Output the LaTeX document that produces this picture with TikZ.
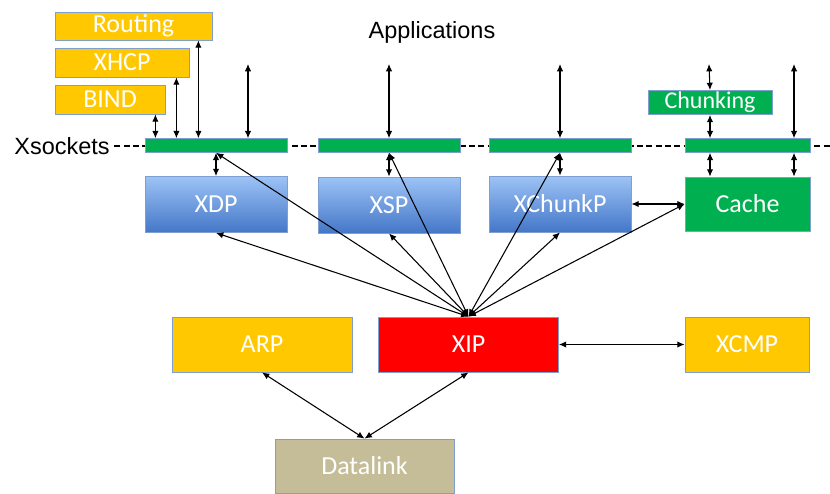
\documentclass[tikz,border=0pt]{standalone}
\usepackage{fontspec}
\setmainfont{Carlito}
\newfontfamily\arialfont{Liberation Sans}
\usetikzlibrary{arrows.meta}

\definecolor{gold}{HTML}{FFC800}
\definecolor{xgreen}{HTML}{00B050}
\definecolor{tan}{HTML}{C4BD97}
\definecolor{edgeblue}{HTML}{7F9FD0}
\definecolor{lightblue}{RGB}{157,195,246}
\definecolor{darkblue}{RGB}{68,119,200}

\tikzset{
  box/.style={draw=edgeblue, line width=0.6pt, inner sep=0pt, text=white,
    font=\fontsize{19.5}{20}\selectfont},
  goldbox/.style={box, fill=gold},
  bluebox/.style={box, top color=lightblue, bottom color=darkblue},
  bar/.style={draw=edgeblue, line width=0.4pt, fill=xgreen, minimum height=10.5pt, inner sep=0pt},
  dbl/.style={<->, line width=0.8pt},
  label/.style={font=\arialfont\fontsize{17.6}{18}\selectfont}
}

\begin{document}
\begin{tikzpicture}[x=0.75pt, y=-0.75pt, >={Latex[length=5.5pt,width=4.8pt]}]
    \useasboundingbox (0,0) rectangle (830,493);

    % Xsockets line
    \node[label] (xsock) at (62,146) {Xsockets};
    \draw[dashed, line width=0.9pt, dash pattern=on 4.5pt off 2.5pt] (xsock.east) -- (830,146);
    \node[label] (apps) at (432,32) {Applications};

    % Socket bars
    \node[bar, minimum width=106.5pt] (bar1) at (216,145.5) {};
    \node[bar, minimum width=106.5pt] (bar2) at (389,145.5) {};
    \node[bar, minimum width=106.5pt] (bar3) at (560,145.5) {};
    \node[bar, minimum width=93.75pt] (bar4) at (747.5,145.5) {};

    % Control plane
    \node[goldbox, minimum width=117.75pt, minimum height=21pt] (routing) at (133.5,26) {Routing};
    \node[goldbox, minimum width=100.5pt, minimum height=21.75pt] (xhcp) at (122,62.5) {XHCP};
    \node[goldbox, minimum width=82.5pt, minimum height=21.75pt] (bind) at (110,99.5) {BIND};

    % Transports
    \node[bluebox, minimum width=106.5pt, minimum height=42pt] (xdp) at (216,204.5) {XDP};
    \node[bluebox, minimum width=106.5pt, minimum height=42pt] (xsp) at (389,205) {XSP};
    \node[bluebox, minimum width=106.5pt, minimum height=42pt] (xchunkp) at (560,204) {XChunkP};
    \node[box, fill=xgreen, minimum width=93.75pt, minimum height=40.5pt] (cache) at (747.5,204) {Cache};
    \node[box, fill=xgreen, minimum width=93pt, minimum height=18pt,
      font=\fontsize{18}{18}\selectfont] (chunking) at (710,102.5) {Chunking};

    % Network layer
    \node[goldbox, minimum width=135pt, minimum height=41.25pt] (arp) at (262,344.5) {ARP};
    \node[box, fill=red, minimum width=135pt, minimum height=41.25pt] (xip) at (468.5,344.5) {XIP};
    \node[goldbox, minimum width=93pt, minimum height=41.25pt] (xcmp) at (747,344.5) {XCMP};
    \node[box, fill=tan, minimum width=134.25pt, minimum height=40.5pt] (datalink) at (364.5,466) {Datalink};

    % Application ends
    \coordinate (a1) at (248,64);
    \coordinate (a2) at (389,64);
    \coordinate (a3) at (560,64);
    \coordinate (a4) at (709,64);
    \coordinate (a5) at (794,64);

    % Arrows to the sockets
    \draw[dbl] ([xshift=-7.5pt]bind.south east) -- ([xshift=-7.5pt]bind.south east |- bar1.north);
    \draw[dbl] ([xshift=-9.75pt]xhcp.south east) -- ([xshift=-9.75pt]xhcp.south east |- bar1.north);
    \draw[dbl] ([xshift=-10.5pt]routing.south east) -- ([xshift=-10.5pt]routing.south east |- bar1.north);
    \draw[dbl] (a1) -- (a1 |- bar1.north);
    \draw[dbl] (a2) -- (bar2.north);
    \draw[dbl] (a3) -- (bar3.north);
    \draw[dbl] (a4) -- (chunking.north);
    \draw[dbl] (chunking.south) -- (chunking.south |- bar4.north);
    \draw[dbl] (a5) -- (a5 |- bar4.north);

    % Sockets to transports
    \draw[dbl] (bar1.south) -- (xdp.north);
    \draw[dbl] (bar2.south) -- (xsp.north);
    \draw[dbl] (bar3.south) -- (xchunkp.north);
    \draw[dbl] (chunking.south |- bar4.south) -- (chunking.south |- cache.north);
    \draw[dbl] (a5 |- bar4.south) -- (a5 |- cache.north);
    \draw[dbl] (xchunkp.east) -- (cache.west);

    % Fan out of XIP
    \foreach \t in {xdp.south, bar1.south, xsp.south, bar2.south, xchunkp.south, bar3.south, cache.west}
      \draw[dbl] (xip.north) -- (\t);

    % Lower layer
    \draw[dbl] (xip.east) -- (xcmp.west);
    \draw[dbl] (arp.south) -- (datalink.north);
    \draw[dbl] (xip.south) -- (datalink.north);
\end{tikzpicture}
\end{document}
